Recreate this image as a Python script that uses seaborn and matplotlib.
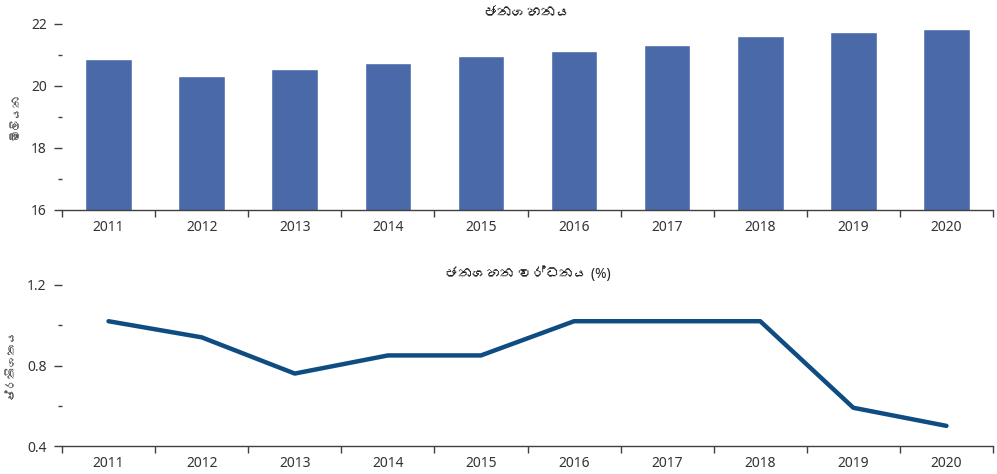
import matplotlib
matplotlib.use("Agg")
import matplotlib.pyplot as plt
import seaborn as sns
import pandas as pd
from matplotlib import font_manager
from matplotlib.ft2font import FT2Font
from matplotlib.ticker import MultipleLocator, FixedLocator

years = ["2011", "2012", "2013", "2014", "2015", "2016", "2017", "2018", "2019", "2020"]
population = [20.86, 20.33, 20.55, 20.75, 20.96, 21.13, 21.33, 21.62, 21.74, 21.84]
growth = [1.02, 0.94, 0.76, 0.85, 0.85, 1.02, 1.02, 1.02, 0.59, 0.50]

title_top = "ජනගහනය"
title_bottom = "ජනගහන වර්ධනය (%)"
ylabel_top = "මිලියන"
ylabel_bottom = "ප්‍රතිශතය"

sns.set_style("white")

# look for any installed family that covers Sinhala
sinhala_families = []
for fe in font_manager.fontManager.ttflist:
    try:
        cmap = FT2Font(fe.fname).get_charmap()
    except Exception:
        continue
    if ord("ජ") in cmap and fe.name not in sinhala_families:
        sinhala_families.append(fe.name)

plt.rcParams['font.family'] = ['Noto Sans'] + sinhala_families + ['DejaVu Sans']

df = pd.DataFrame({"year": years, "population": population, "growth": growth})

fig = plt.figure(figsize=(9.97, 4.74), dpi=100)
ax1 = fig.add_axes([62/997, 1-210/474, (993-62)/997, (210-24)/474])
ax2 = fig.add_axes([62/997, 1-446/474, (993-62)/997, (446-285)/474])

sns.barplot(data=df, x="year", y="population", color="#4A69A8", width=0.5,
            saturation=1, ax=ax1)
sns.lineplot(data=df, x="year", y="growth", color="#0F4C81", linewidth=3.2,
             ax=ax2, sort=False)

for ax, lo, hi, step, title, ylab, tsize in [
    (ax1, 16, 22, 2, title_top, ylabel_top, 10.5),
    (ax2, 0.4, 1.2, 0.4, title_bottom, ylabel_bottom, 10),
]:
    ax.set_ylim(lo, hi)
    ax.set_xlim(-0.5, 9.5)
    ax.yaxis.set_major_locator(MultipleLocator(step))
    ax.yaxis.set_minor_locator(MultipleLocator(step / 2))
    ax.xaxis.set_minor_locator(FixedLocator([i - 0.5 for i in range(11)]))
    for s in ["top", "right", "left"]:
        ax.spines[s].set_visible(False)
    ax.spines["bottom"].set_color("#404040")
    ax.spines["bottom"].set_linewidth(1.0)
    ax.tick_params(axis="y", which="major", left=True, length=6, width=1,
                   color="#404040", labelsize=10, labelcolor="#333333", pad=5)
    ax.tick_params(axis="y", which="minor", left=True, length=3, width=1,
                   color="#404040")
    ax.tick_params(axis="x", which="major", length=0, labelsize=10,
                   labelcolor="#333333", pad=7)
    ax.tick_params(axis="x", which="minor", bottom=True, length=5, width=1,
                   color="#404040")
    ax.set_xlabel("")
    ax.set_ylabel(ylab, fontsize=8.5, color="#555555", labelpad=6)
    ax.set_title(title, fontsize=tsize, fontweight="bold", color="#222222", pad=5)
    ax.grid(False)

fig.savefig("out.png", dpi=100)
